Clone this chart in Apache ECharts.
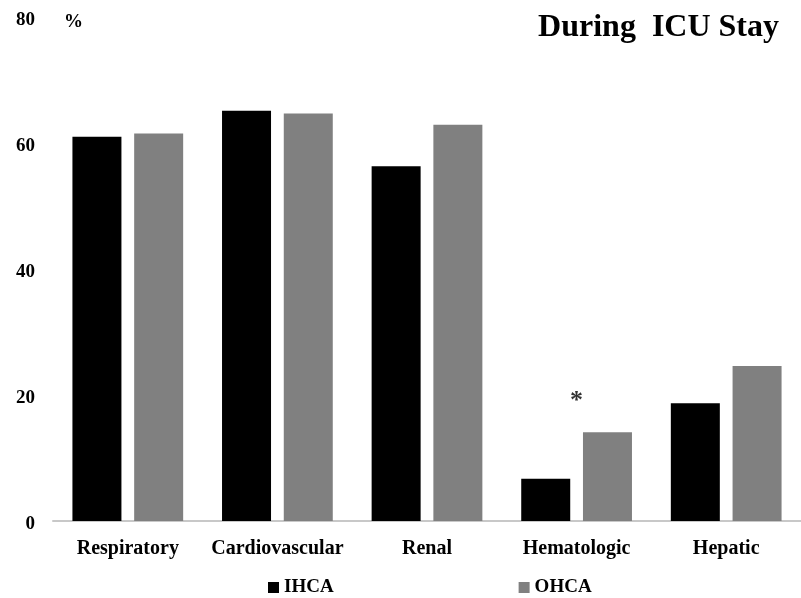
<!DOCTYPE html>
<html>
<head>
<meta charset="utf-8">
<script src="https://cdn.jsdelivr.net/npm/echarts@6/dist/echarts.min.js"></script>
<style>
  html, body { margin: 0; padding: 0; background: #fff; }
  #main { width: 801px; height: 598px; }
</style>
</head>
<body>
<div id="main"></div>
<script>
// organ failure during ICU stay, %
var categories = ['Respiratory', 'Cardiovascular', 'Renal', 'Hematologic', 'Hepatic'];
var ihca = [61.0, 65.1, 56.3, 6.7, 18.7];
var ohca = [61.5, 64.7, 62.9, 14.1, 24.6];
// significance marker
var starMarks = [['Hematologic', 19.0]];

var serif = '"Liberation Serif", "DejaVu Serif", serif';
var labelFont = { fontFamily: serif, fontWeight: 'bold', fontSize: 19, color: '#000' };

var chart = echarts.init(document.getElementById('main'), null, { renderer: 'canvas' });

var option = {
  backgroundColor: '#fff',
  animation: false,
  title: {
    text: 'During  ICU Stay',
    right: 17,
    top: 7,
    textStyle: { fontFamily: serif, fontWeight: 'bold', fontSize: 32, color: '#000' }
  },
  legend: {
    data: ['IHCA', 'OHCA'],
    left: 263,
    top: 573,
    itemWidth: 11,
    itemHeight: 11,
    itemGap: 185,
    icon: 'rect',
    textStyle: labelFont
  },
  grid: {
    left: 53,
    right: -2,
    top: 17,
    bottom: 77
  },
  xAxis: {
    type: 'category',
    data: categories,
    axisLine: { show: true, lineStyle: { color: '#c8c8c8', width: 2 } },
    axisTick: { show: false },
    axisLabel: {
      interval: 0,
      margin: 18,
      fontFamily: serif, fontWeight: 'bold', fontSize: 20, color: '#000'
    }
  },
  yAxis: {
    type: 'value',
    min: 0,
    max: 80,
    interval: 20,
    name: '{p|%}',
    nameLocation: 'end',
    nameGap: 0,
    nameTextStyle: {
      align: 'left', verticalAlign: 'middle', padding: [0, 0, 0, 11],
      rich: { p: Object.assign({ padding: [10, 0, 0, 0] }, labelFont) }
    },
    axisLine: { show: false },
    axisTick: { show: false },
    splitLine: { show: false },
    axisLabel: {
      margin: 18,
      formatter: function (v) { return '{n|' + v + '}'; },
      rich: { n: Object.assign({ padding: [6, 0, 0, 0] }, labelFont) }
    }
  },
  series: [
    {
      name: 'IHCA',
      type: 'bar',
      data: ihca,
      barWidth: 49,
      barGap: '26%',
      itemStyle: { color: '#000' }
    },
    {
      name: 'OHCA',
      type: 'bar',
      data: ohca,
      barWidth: 49,
      itemStyle: { color: '#808080' }
    },
    {
      type: 'scatter',
      data: starMarks,
      symbolSize: 0,
      silent: true,
      label: {
        show: true,
        position: 'inside',
        formatter: '*',
        fontFamily: serif, fontWeight: 'bold', fontSize: 26, color: '#000'
      }
    }
  ]
};

chart.setOption(option);
</script>
</body>
</html>
